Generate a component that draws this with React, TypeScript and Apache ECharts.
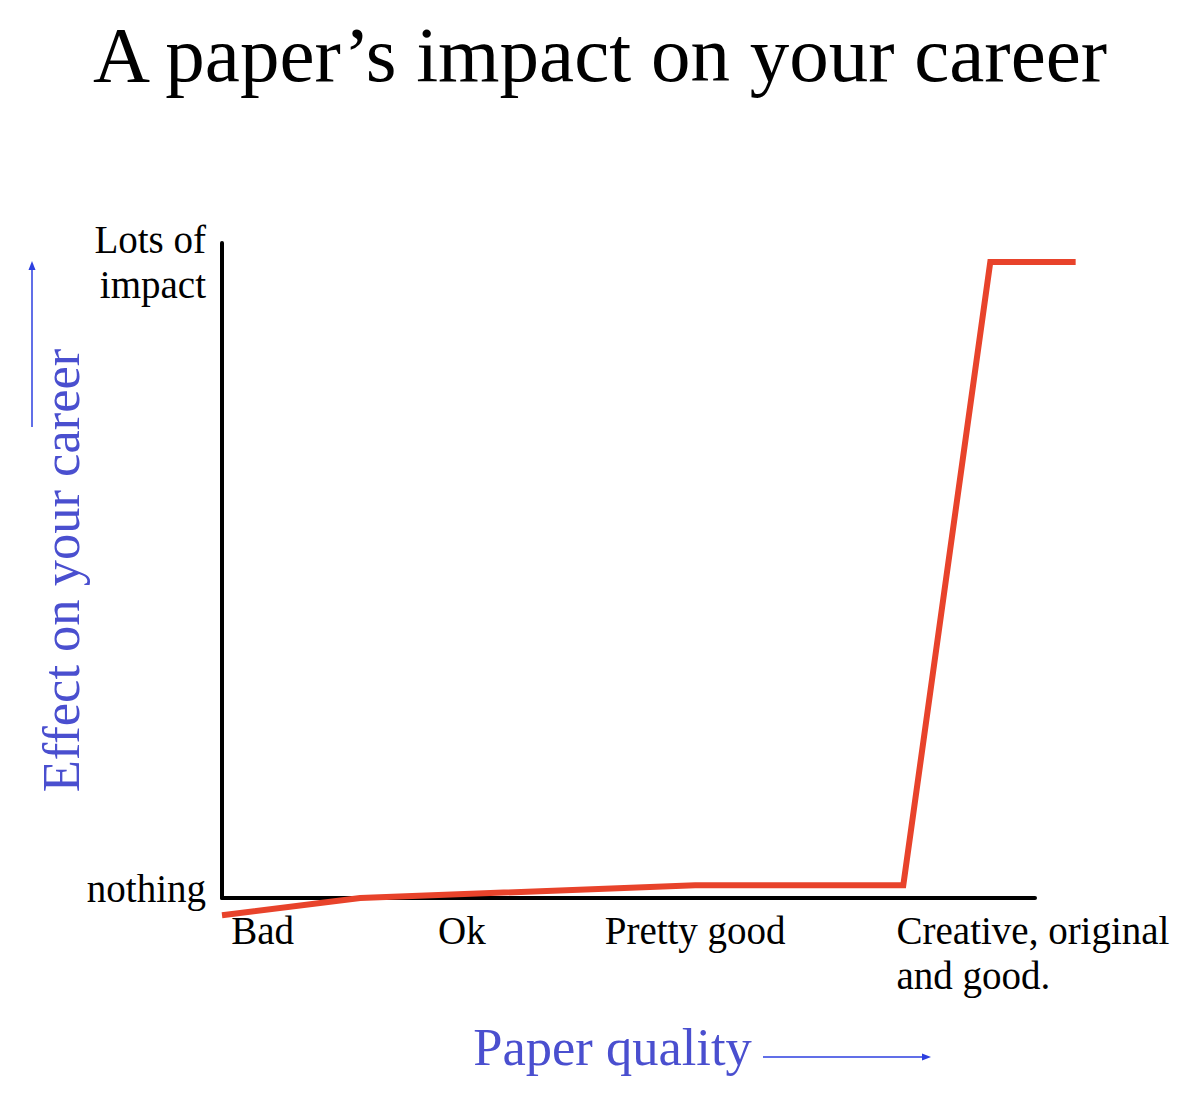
import React, { useEffect, useRef } from "react";
import * as echarts from "echarts";

const title = "A paper’s impact on your career";
const xTickLabels = ["Bad", "Ok", "Pretty good", "Creative, original\nand good."];
const xTickPositions = [0.5, 2.95, 5.82, 9.975];
const yTickValues = [0, 100];
const yTickLabels = ["nothing", "Lots of\nimpact"];
const qualityX = [0, 1.7, 5.82, 8.38, 9.45, 10.5];
const impactY = [-2.7, 0, 2.0, 2.0, 100, 100];
const xName = "Paper quality";
const yName = "Effect on your career";

const SERIF = '"Liberation Serif", "Times New Roman", Times, serif';
const BLUE_TEXT = "#4a4fcf";
const BLUE_ARROW = "#2c3fe0";
const RED = "#e8432b";

export default function App() {
  const ref = useRef<HTMLDivElement>(null);
  useEffect(() => {
    document.body.style.margin = "0";
    const chart = echarts.init(ref.current!, null, { renderer: "svg" });
    const tickStyle = { fontSize: 39, fontFamily: SERIF, color: "#000", lineHeight: 45 };
    // axis grid: x in 0..10 over 813px; data grid extends further right with same scale
    const axisRight = 165;
    const dataRight = 123;
    const plotW = 1200 - 222 - axisRight;
    const dataMaxX = (10 * (1200 - 222 - dataRight)) / plotW;
    chart.setOption({
      animation: false,
      backgroundColor: "#fff",
      title: {
        text: title,
        left: "center",
        top: 10,
        textStyle: { fontSize: 79, fontFamily: SERIF, fontWeight: "normal", color: "#000" },
      },
      grid: [
        { left: 222, right: axisRight, top: 243, bottom: 210, containLabel: false },
        { left: 222, right: dataRight, top: 243, bottom: 210, containLabel: false },
      ],
      xAxis: [
        {
          type: "value",
          gridIndex: 0,
          min: 0,
          max: 10,
          splitLine: { show: false },
          axisTick: { show: false },
          axisLine: { show: true, onZero: false, lineStyle: { color: "#000", width: 4 } },
          axisLabel: {
            customValues: xTickPositions,
            margin: 10,
            formatter: (v: number) => {
              const i = xTickPositions.findIndex((p) => Math.abs(p - v) < 1e-6);
              if (i < 0) return "";
              return xTickLabels[i].split("\n").map((l) => `{l|${l}}`).join("\n");
            },
            rich: { l: { ...tickStyle, align: "left" } },
          },
          name: xName,
          nameLocation: "middle",
          nameGap: 122,
          nameMoveOverlap: false,
          nameTextStyle: { fontSize: 52.5, fontFamily: SERIF, color: BLUE_TEXT, padding: [0, 32, 0, 0] },
        },
        {
          type: "value",
          gridIndex: 1,
          min: 0,
          max: dataMaxX,
          show: false,
        },
      ],
      yAxis: [
        {
          type: "value",
          gridIndex: 0,
          min: 0,
          max: 103,
          splitLine: { show: false },
          axisTick: { show: false },
          axisLine: { show: true, lineStyle: { color: "#000", width: 4 } },
          axisLabel: {
            customValues: yTickValues,
            margin: 16,
            formatter: (v: number) => {
              const i = yTickValues.indexOf(v);
              if (i < 0) return "";
              return v === 0 ? `{n|${yTickLabels[i]}}` : `{t|${yTickLabels[i]}}`;
            },
            rich: {
              n: { ...tickStyle, padding: [0, 0, 20, 0] },
              t: { ...tickStyle },
            },
          },
          name: yName,
          nameLocation: "middle",
          nameRotate: 90,
          nameGap: 135,
          nameMoveOverlap: false,
          nameTextStyle: { fontSize: 52.5, fontFamily: SERIF, color: BLUE_TEXT },
        },
        {
          type: "value",
          gridIndex: 1,
          min: 0,
          max: 103,
          show: false,
        },
      ],
      series: [
        {
          type: "line",
          xAxisIndex: 1,
          yAxisIndex: 1,
          data: qualityX.map((x, i) => [x, impactY[i]]),
          clip: false,
          symbol: "none",
          lineStyle: { color: RED, width: 6, join: "miter" },
        },
      ],
      graphic: [
        {
          type: "polyline",
          shape: { points: [[32, 427], [32, 268]] },
          style: { stroke: BLUE_ARROW, lineWidth: 1.5, fill: "none" },
        },
        {
          type: "polygon",
          shape: { points: [[32, 261], [28.5, 270], [35.5, 270]] },
          style: { fill: BLUE_ARROW },
        },
        {
          type: "polyline",
          shape: { points: [[763, 1057], [924, 1057]] },
          style: { stroke: BLUE_ARROW, lineWidth: 1.5, fill: "none" },
        },
        {
          type: "polygon",
          shape: { points: [[931, 1057], [922, 1053.5], [922, 1060.5]] },
          style: { fill: BLUE_ARROW },
        },
      ],
    });
    return () => chart.dispose();
  }, []);
  return <div ref={ref} style={{ width: 1200, height: 1108 }} />;
}
